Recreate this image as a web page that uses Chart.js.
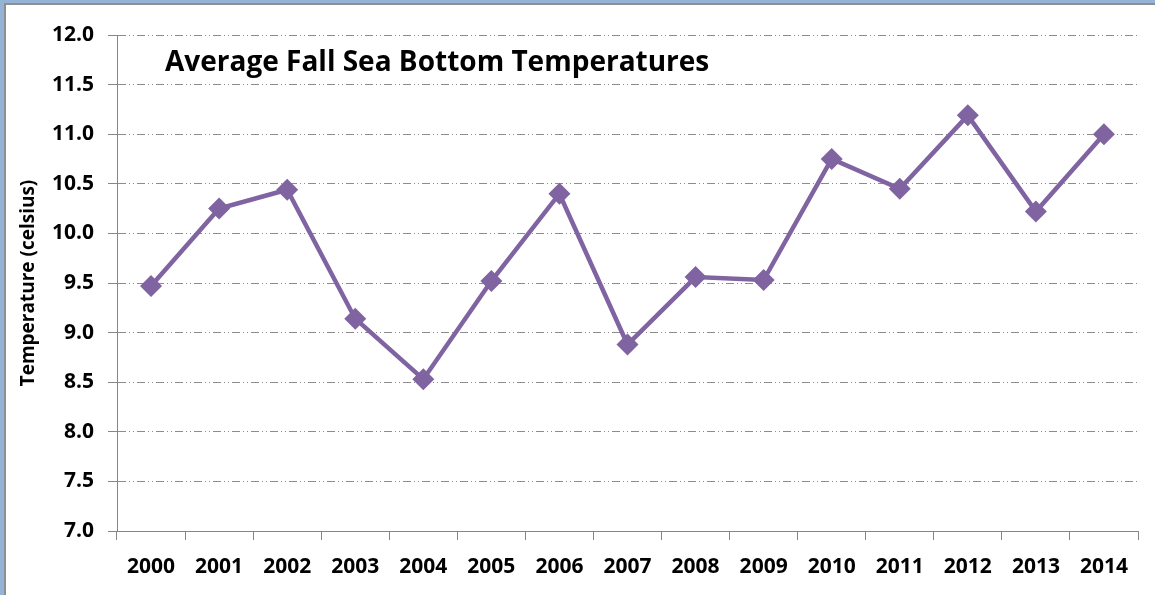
<!DOCTYPE html>
<html>
<head>
<meta charset="utf-8">
<script src="https://cdn.jsdelivr.net/npm/chart.js@4"></script>
<style>
  html, body { margin: 0; padding: 0; background: #fff; }
  #wrap { position: relative; width: 1155px; height: 595px; overflow: hidden; }
  canvas { position: absolute; left: 0; top: 0; }
  .frameTop { position: absolute; left: 0; top: 0; width: 1155px; height: 3px; background: #95b3d7; }
  .frameTop2 { position: absolute; left: 4px; top: 3px; width: 1151px; height: 2px; background: #8f8f8f; }
  .frameLeft { position: absolute; left: 0; top: 0; width: 4px; height: 595px; background: #95b3d7; }
  .frameLeft2 { position: absolute; left: 4px; top: 3px; width: 2px; height: 592px; background: #8f8f8f; }
  #title { position: absolute; left: 165px; top: 41px; font: bold 28px "Open Sans", sans-serif; color: #000; white-space: nowrap; }
</style>
</head>
<body>
<div id="wrap">
  <canvas id="c" width="1155" height="595"></canvas>
  <div class="frameTop"></div><div class="frameTop2"></div>
  <div class="frameLeft"></div><div class="frameLeft2"></div>
  <div id="title">Average Fall Sea Bottom Temperatures</div>
</div>
<script>
const years = ["2000", "2001", "2002", "2003", "2004", "2005", "2006", "2007",
               "2008", "2009", "2010", "2011", "2012", "2013", "2014"];
const temps = [9.47, 10.25, 10.44, 9.14, 8.53, 9.52, 10.40, 8.88,
               9.56, 9.53, 10.75, 10.45, 11.19, 10.22, 11.00];
const yTitle = "Temperature (celsius)";

const C = { line: "#8064a2", axis: "#868686", grid: "#8c8c8c", text: "#000" };
const FONT = "'Open Sans', sans-serif";

new Chart(document.getElementById("c"), {
  type: "line",
  data: {
    labels: years,
    datasets: [{
      data: temps,
      borderColor: C.line, backgroundColor: C.line,
      borderWidth: 4.5, tension: 0,
      pointStyle: "rectRot", pointRadius: 11, pointHoverRadius: 11,
      pointBackgroundColor: C.line, pointBorderColor: C.line, pointBorderWidth: 0,
    }],
  },
  options: {
    responsive: false, animation: false,
    layout: { padding: { left: 0, right: 17, top: 35, bottom: 0 } },
    plugins: { legend: { display: false }, tooltip: { enabled: false } },
    scales: {
      x: {
        offset: true,
        grid: { offset: true, drawOnChartArea: false, drawTicks: true, tickLength: 9, color: C.axis, lineWidth: 1 },
        border: { color: C.axis, width: 1 },
        ticks: { color: C.text, padding: 14, maxRotation: 0, font: { family: FONT, size: 21, weight: "bold" } },
        afterFit: (s) => { s.height = 64; },
      },
      y: {
        min: 7, max: 12,
        ticks: { stepSize: 0.5, color: C.text, padding: 14, callback: (v) => v.toFixed(1),
                 font: { family: FONT, size: 21, weight: "bold" } },
        grid: { color: C.grid, lineWidth: 1, tickLength: 9, tickColor: C.axis, tickBorderDash: [] },
        border: { color: C.axis, width: 1, dash: [8, 3, 1, 3, 1, 3] },
        title: { display: true, text: yTitle, color: C.text, padding: { top: 17, bottom: 0 },
                 font: { family: FONT, size: 19, weight: "bold" } },
        afterFit: (s) => { s.width = 117; },
      },
    },
  },
});
</script>
</body>
</html>
